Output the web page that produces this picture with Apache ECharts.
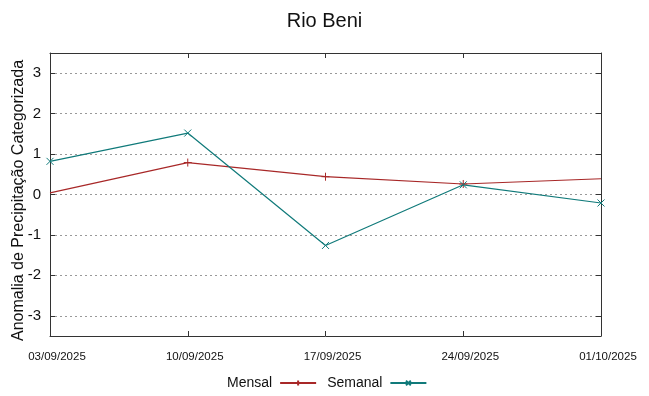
<!DOCTYPE html>
<html><head><meta charset="utf-8">
<script src="https://cdn.jsdelivr.net/npm/echarts@6/dist/echarts.min.js"></script>
<style>html,body{margin:0;padding:0;background:#fff}#c{width:649px;height:396px}</style>
</head><body><div id="c"></div>
<script>
const categories = ['03/09/2025','10/09/2025','17/09/2025','24/09/2025','01/10/2025'];
const mensal = [0.04, 0.79, 0.44, 0.26, 0.39];
const semanal = [0.82, 1.52, -1.26, 0.24, -0.21];
const yTicks = [-3,-2,-1,0,1,2,3];
const mensalMarked = [false, true, true, true, false];

const PLUS = 'path://M5,0L5,10M0,5L10,5';
const CROSS = 'path://M0,0L10,10M10,0L0,10';
const cM = '#a82828', cS = '#107a7a';

const chart = echarts.init(document.getElementById('c'));
const axisLineStyle = {color:'#333', width:1};
chart.setOption({
  animation:false,
  title:{text:'Rio Beni', left:'center', top:6, textStyle:{fontFamily:'Liberation Sans', fontSize:20, fontWeight:'normal', color:'#111'}},
  grid:{left:50, right:48, top:53, bottom:60, outerBoundsMode:'none', containLabel:false},
  legend:{
    bottom:1, left:222, align:'right', itemWidth:36, itemHeight:6, itemGap:10,
    textStyle:{fontFamily:'Liberation Sans', fontSize:14, color:'#111', padding:[0,3,0,0]},
    data:['Mensal','Semanal']
  },
  xAxis:[{
    type:'category', data:categories, boundaryGap:false,
    axisLine:{onZero:false, lineStyle:axisLineStyle},
    axisTick:{inside:true, length:5, lineStyle:axisLineStyle},
    axisLabel:{fontFamily:'Liberation Sans', fontSize:11.5, color:'#111', margin:15, padding:[0,0,0,14]},
    splitLine:{show:false}
  },{
    type:'category', data:categories, boundaryGap:false, position:'top',
    axisLine:{onZero:false, lineStyle:axisLineStyle},
    axisTick:{inside:true, length:5, lineStyle:axisLineStyle},
    axisLabel:{show:false}, splitLine:{show:false}
  }],
  yAxis:[{
    type:'value', min:-3.5, max:3.5,
    name:'Anomalia de Precipitação Categorizada', nameLocation:'middle', nameGap:23, nameMoveOverlap:false,
    nameTextStyle:{fontFamily:'Liberation Sans', fontSize:16, color:'#111', padding:[0,12,0,0]},
    axisLine:{show:true, onZero:false, lineStyle:axisLineStyle},
    axisTick:{show:true, inside:true, length:5, customValues:yTicks, lineStyle:axisLineStyle},
    axisLabel:{customValues:yTicks, fontFamily:'Liberation Sans', fontSize:15, color:'#111', margin:9},
    splitLine:{show:true, lineStyle:{color:'#999', type:[2,3], width:1}}
  },{
    type:'value', min:-3.5, max:3.5, position:'right',
    axisLine:{show:true, onZero:false, lineStyle:axisLineStyle},
    axisTick:{show:true, inside:true, length:5, customValues:yTicks, lineStyle:axisLineStyle},
    axisLabel:{show:false}, splitLine:{show:false}
  }],
  series:[{
    name:'Mensal', type:'line', data:mensal.map((v,i)=>mensalMarked[i]?v:{value:v, symbol:'none'}),
    symbol:PLUS, symbolSize:8, showAllSymbol:true,
    color:cM, lineStyle:{color:cM, width:1.2},
    itemStyle:{color:'rgba(0,0,0,0)', borderColor:cM, borderWidth:1}
  },{
    name:'Semanal', type:'line', data:semanal,
    symbol:CROSS, symbolSize:7, showAllSymbol:true,
    color:cS, lineStyle:{color:cS, width:1.2},
    itemStyle:{color:'rgba(0,0,0,0)', borderColor:cS, borderWidth:1}
  }]
});
</script></body></html>
